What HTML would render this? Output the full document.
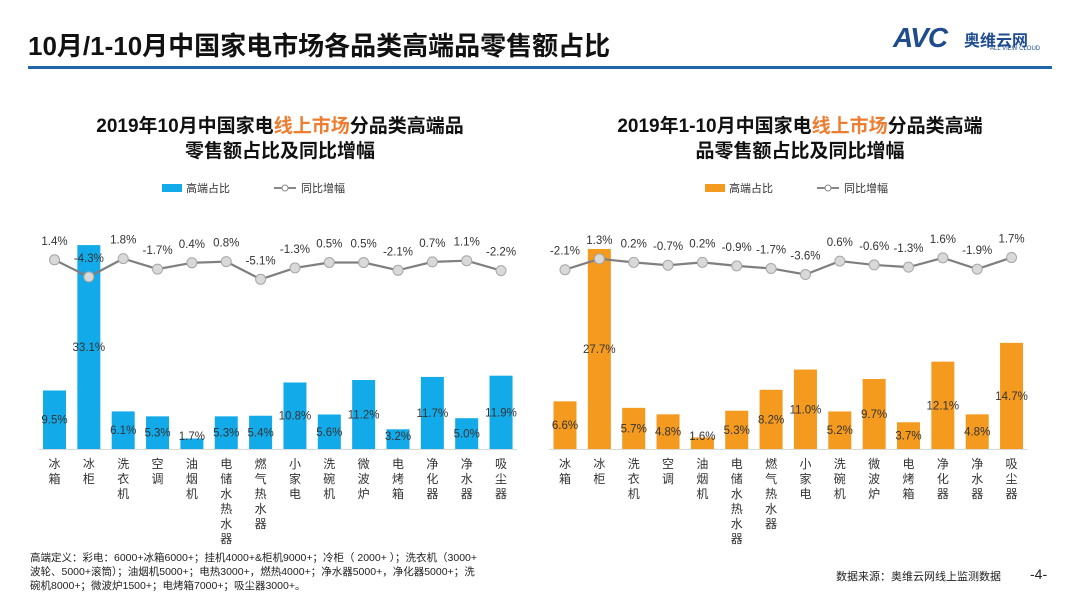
<!DOCTYPE html>
<html><head><meta charset="utf-8"><style>
body{margin:0;width:1080px;height:608px;background:#fff;font-family:"Liberation Sans","Noto Sans CJK SC",sans-serif;overflow:hidden;position:relative}
.t{position:absolute;white-space:nowrap}
</style></head><body>
<div class="t" style="left:28px;top:26px;font-size:26px;font-weight:bold;color:#111">10月/1-10月中国家电市场各品类高端品零售额占比</div>
<div class="t" style="left:893px;top:22px;font-size:28px;font-weight:bold;font-style:italic;color:#1e4c8e;letter-spacing:-1px">AVC</div>
<div class="t" style="left:964px;top:27px;font-size:16px;font-weight:bold;color:#1e4c8e">奥维云网</div>
<div class="t" style="left:990px;top:46px;font-size:6px;color:#1e4c8e">ALL VIEW CLOUD</div>
<div style="position:absolute;left:28px;top:66px;width:1024px;height:3px;background:#2166a8"></div>
<div class="t" style="left:40px;width:480px;top:114px;text-align:center;font-size:19px;font-weight:bold;line-height:25px;color:#111">2019年10月中国家电<span style="color:#ed7d31">线上市场</span>分品类高端品<br>零售额占比及同比增幅</div>
<div class="t" style="left:560px;width:480px;top:114px;text-align:center;font-size:19px;font-weight:bold;line-height:25px;color:#111">2019年1-10月中国家电<span style="color:#ed7d31">线上市场</span>分品类高端<br>品零售额占比及同比增幅</div>
<svg id="chart" width="1080" height="608" style="position:absolute;left:0;top:0" font-family="Liberation Sans, Noto Sans CJK SC, sans-serif"></svg>
<div class="t" style="left:30px;top:551px;font-size:10.5px;line-height:14px;color:#222">高端定义：彩电：6000+冰箱6000+；挂机4000+&amp;柜机9000+；冷柜（ 2000+ ）；洗衣机（3000+<br>波轮、5000+滚筒）；油烟机5000+；电热3000+，燃热4000+；净水器5000+，净化器5000+；洗<br>碗机8000+；微波炉1500+；电烤箱7000+；吸尘器3000+。</div>
<div class="t" style="left:836px;top:568px;font-size:11px;color:#222">数据来源：奥维云网线上监测数据</div>
<div class="t" style="left:1030px;top:566px;font-size:14px;color:#222">-4-</div>
<script>
const categories=["冰箱","冰柜","洗衣机","空调","油烟机","电储水热水器","燃气热水器","小家电","洗碗机","微波炉","电烤箱","净化器","净水器","吸尘器"];
const leftShare=[9.5,33.1,6.1,5.3,1.7,5.3,5.4,10.8,5.6,11.2,3.2,11.7,5.0,11.9];
const leftYoY=[1.4,-4.3,1.8,-1.7,0.4,0.8,-5.1,-1.3,0.5,0.5,-2.1,0.7,1.1,-2.2];
const rightShare=[6.6,27.7,5.7,4.8,1.6,5.3,8.2,11.0,5.2,9.7,3.7,12.1,4.8,14.7];
const rightYoY=[-2.1,1.3,0.2,-0.7,0.2,-0.9,-1.7,-3.6,0.6,-0.6,-1.3,1.6,-1.9,1.7];
const legendShare="高端占比", legendYoY="同比增幅";
const svg=document.getElementById('chart');const NS='http://www.w3.org/2000/svg';
function mk(t,a,txt){const e=document.createElementNS(NS,t);for(const k in a)e.setAttribute(k,a[k]);if(txt!==undefined)e.textContent=txt;svg.appendChild(e);return e;}
function draw(cfg){
  const {x0,step,base,bScale,lZero,lScale,share,yoy,color,pfx,legX}=cfg;
  const xf=i=>x0+i*step, yb=v=>base-v*bScale, yl=v=>lZero-v*lScale;
  let e=mk('rect',{x:legX,y:184,width:20,height:8,fill:color});
  
  e=mk('text',{x:legX+24,y:192,'font-size':11,fill:'#333'},legendShare);
  
  e=mk('line',{x1:legX+112,y1:188,x2:legX+134,y2:188,stroke:'#888','stroke-width':2});
  
  mk('circle',{cx:legX+123,cy:188,r:3,fill:'#fff',stroke:'#888'});
  e=mk('text',{x:legX+139,y:192,'font-size':11,fill:'#333'},legendYoY);
  
  e=mk('line',{x1:xf(0)-16,y1:base+0.5,x2:xf(13)+16,y2:base+0.5,stroke:'#d9d9d9'});
  
  share.forEach((v,i)=>{
    const r=mk('rect',{x:xf(i)-11.5,y:yb(v),width:23,height:base-yb(v),fill:color});
    
    const ly=Math.min((yb(v)+base)/2,base-13)+4;
    const t=mk('text',{x:xf(i),y:ly,'font-size':11.5,'text-anchor':'middle',fill:'#333'},v.toFixed(1)+'%');
    
    categories[i].split('').forEach((c,k)=>{
      const ct=mk('text',{x:xf(i),y:base+19+k*15,'font-size':12,'text-anchor':'middle',fill:'#333'},c);
      
    });
  });
  const pl=mk('polyline',{points:yoy.map((v,i)=>xf(i)+','+yl(v)).join(' '),fill:'none',stroke:'#7f7f7f','stroke-width':2.2});
  
  yoy.forEach((v,i)=>{
    const c=mk('circle',{cx:xf(i),cy:yl(v),r:5,fill:'#d9d9d9',stroke:'#a6a6a6','stroke-width':1});
    
    const t=mk('text',{x:xf(i),y:yl(v)-15,'font-size':11.5,'text-anchor':'middle',fill:'#333'},v.toFixed(1)+'%');
    
  });
}
draw({x0:54.5,step:34.35,base:449,bScale:6.16,lZero:264,lScale:3,share:leftShare,yoy:leftYoY,color:'#12aae8',pfx:'left',legX:162});
draw({x0:565,step:34.35,base:449,bScale:7.22,lZero:263,lScale:3.2,share:rightShare,yoy:rightYoY,color:'#f39a1f',pfx:'right',legX:705});
</script>
</body></html>
